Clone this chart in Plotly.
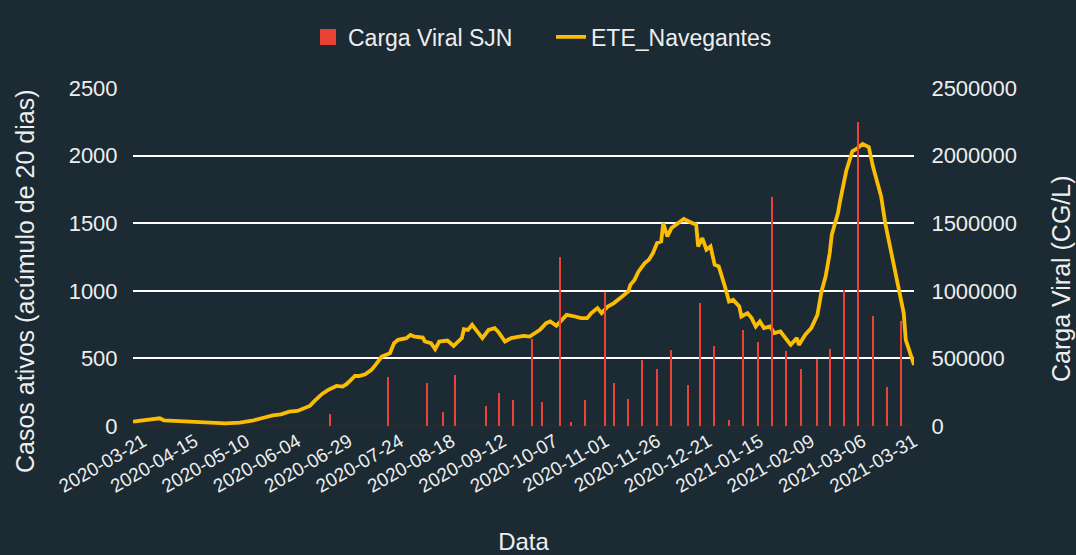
import datetime as dt
import plotly.graph_objects as go

START = dt.date(2020, 3, 16)

# ETE_Navegantes line: day offset from 2020-03-16 and value (casos ativos)
line_days = [0, 6, 13, 15, 22, 31, 36, 45, 52, 58, 63, 68, 72, 76, 80, 83, 86, 88, 92, 95,
             99, 102, 104, 108, 110, 113, 116, 118, 121, 125, 127, 129, 133, 135, 137, 141, 142, 145, 147, 149,
             153, 156, 158, 160, 161, 163, 165, 169, 170, 173, 176, 178, 181, 184, 187, 190, 193, 198, 201, 203,
             206, 209, 211, 215, 218, 221, 223, 226, 228, 231, 234, 238, 241, 242, 244, 246, 249, 251, 253, 255,
             257, 258, 260, 262, 265, 268, 272, 274, 275, 277, 279, 281, 283, 285, 288, 290, 292, 295, 296, 299,
             301, 303, 305, 307, 310, 312, 315, 318, 320, 323, 324, 327, 330, 333, 335, 337, 339, 340, 343, 344,
             346, 347, 350, 352, 355, 358, 360, 362, 364, 366, 368, 371, 373, 375, 376, 380]
line_vals = [32, 42, 57, 42, 37, 27, 20, 20, 25, 39, 59, 79, 86, 106, 111, 133, 148, 180, 237, 267,
             296, 291, 311, 370, 370, 383, 415, 452, 513, 538, 612, 637, 650, 674, 661, 654, 625, 612, 568, 625,
             632, 593, 625, 650, 716, 711, 748, 661, 650, 711, 724, 691, 625, 650, 661, 667, 661, 711, 761, 773,
             741, 785, 822, 810, 798, 798, 835, 872, 835, 884, 909, 958, 995, 1044, 1081, 1143, 1205, 1230, 1279, 1353,
             1365, 1501, 1402, 1464, 1496, 1531, 1501, 1489, 1328, 1390, 1304, 1328, 1193, 1180, 1032, 921, 933, 884, 810, 835,
             798, 736, 773, 724, 736, 687, 699, 637, 600, 650, 600, 674, 724, 822, 995, 1106, 1279, 1415, 1575, 1661,
             1822, 1884, 2032, 2049, 2086, 2064, 1921, 1810, 1699, 1501, 1353, 1156, 1007, 835, 637, 452]

# Carga Viral SJN bars (CG/L)
bar_dates = ["2020-06-20", "2020-07-18", "2020-08-06", "2020-08-14", "2020-08-20", "2020-09-04",
             "2020-09-10", "2020-09-17", "2020-09-26", "2020-10-01", "2020-10-10", "2020-10-15",
             "2020-10-22", "2020-11-01", "2020-11-05", "2020-11-12", "2020-11-19", "2020-11-26",
             "2020-12-03", "2020-12-11", "2020-12-17", "2020-12-24", "2020-12-31", "2021-01-07",
             "2021-01-14", "2021-01-21", "2021-01-28", "2021-02-04", "2021-02-12", "2021-02-18",
             "2021-02-25", "2021-03-04", "2021-03-11", "2021-03-18", "2021-03-25"]
bar_vals = [89000, 363000, 318000, 101000, 378000, 146000,
            244000, 190000, 642000, 175000, 1250000, 30000,
            190000, 990000, 318000, 203000, 491000, 420000,
            563000, 304000, 913000, 595000, 44000, 711000,
            625000, 1696000, 553000, 422000, 496000, 568000,
            1005000, 2250000, 812000, 291000, 780000]

tick_labels = ["2020-03-21", "2020-04-15", "2020-05-10", "2020-06-04", "2020-06-29", "2020-07-24",
               "2020-08-18", "2020-09-12", "2020-10-07", "2020-11-01", "2020-11-26", "2020-12-21",
               "2021-01-15", "2021-02-09", "2021-03-06", "2021-03-31"]

left_ticks = [0, 500, 1000, 1500, 2000, 2500]
right_ticks = [0, 500000, 1000000, 1500000, 2000000, 2500000]

line_dates = [(START + dt.timedelta(days=d)).isoformat() for d in line_days]

TXT = "#EEEEEE"
FONT = "Liberation Sans, Arial, sans-serif"
RED = "#EA4335"
YEL = "#FBBC04"

fig = go.Figure()
fig.add_trace(go.Bar(
    x=bar_dates, y=bar_vals, name="Carga Viral SJN", yaxis="y2",
    marker=dict(color=RED, line=dict(width=0)),
    width=86400000 * 0.7, showlegend=False, legendgroup="cv",
))
# legend entry for the bars (square swatch)
fig.add_trace(go.Scatter(
    x=[None], y=[None], name="Carga Viral SJN", mode="markers", legendgroup="cv",
    marker=dict(symbol="square", size=16, color=RED),
))
fig.add_trace(go.Scatter(
    x=line_dates, y=line_vals, name="ETE_Navegantes", mode="lines",
    line=dict(color=YEL, width=3.8),
))

fig.update_layout(
    width=1076, height=555,
    paper_bgcolor="#1b2a33", plot_bgcolor="rgba(0,0,0,0)",
    font=dict(family=FONT, color=TXT, size=22),
    margin=dict(l=133, r=162, t=88, b=129, autoexpand=False),
    showlegend=True,
    legend=dict(orientation="h", x=(308 - 133) / 781, xanchor="left", y=1.151, yanchor="middle",
                font=dict(size=23, color=TXT), bgcolor="rgba(0,0,0,0)",
                entrywidth=198, entrywidthmode="pixels"),
    xaxis=dict(
        type="date", range=["2020-03-16", "2021-03-31"],
        tickvals=tick_labels, ticktext=tick_labels, tickangle=-30,
        tickfont=dict(size=19, color=TXT), showgrid=False, zeroline=False,
        ticks="", ticklen=0,
        title=dict(text="Data", font=dict(size=24, color=TXT), standoff=55),
        showline=False, automargin=False,
    ),
    yaxis=dict(
        range=[0, 2500], tickvals=left_ticks, ticktext=[str(v) for v in left_ticks],
        showgrid=True, gridcolor="#FFFFFF", gridwidth=1.5,
        zeroline=True, zerolinecolor="#2a2a2a", zerolinewidth=2,
        tickfont=dict(size=22, color=TXT), ticks="outside", ticklen=10, tickcolor="rgba(0,0,0,0)",
        automargin=False,
    ),
    yaxis2=dict(
        range=[0, 2500000], tickvals=right_ticks, ticktext=[str(v) for v in right_ticks],
        overlaying="y", side="right", showgrid=False, zeroline=False,
        tickfont=dict(size=22, color=TXT), ticks="outside", ticklen=12, tickcolor="rgba(0,0,0,0)",
        automargin=False,
    ),
    bargap=0,
    annotations=[
        dict(text="Casos ativos (acúmulo de 20 dias)", textangle=-90, showarrow=False,
             xref="paper", yref="paper", x=(25 - 133) / 781, y=(426 - 281) / 338,
             xanchor="center", yanchor="middle", font=dict(size=25, color=TXT)),
        dict(text="Carga Viral (CG/L)", textangle=-90, showarrow=False,
             xref="paper", yref="paper", x=(1061 - 133) / 781, y=(426 - 279) / 338,
             xanchor="center", yanchor="middle", font=dict(size=25, color=TXT)),
    ],
)

fig.write_html("out.html", config={"displayModeBar": False},
               post_script="document.body.style.margin='0';document.body.style.overflow='hidden';")
